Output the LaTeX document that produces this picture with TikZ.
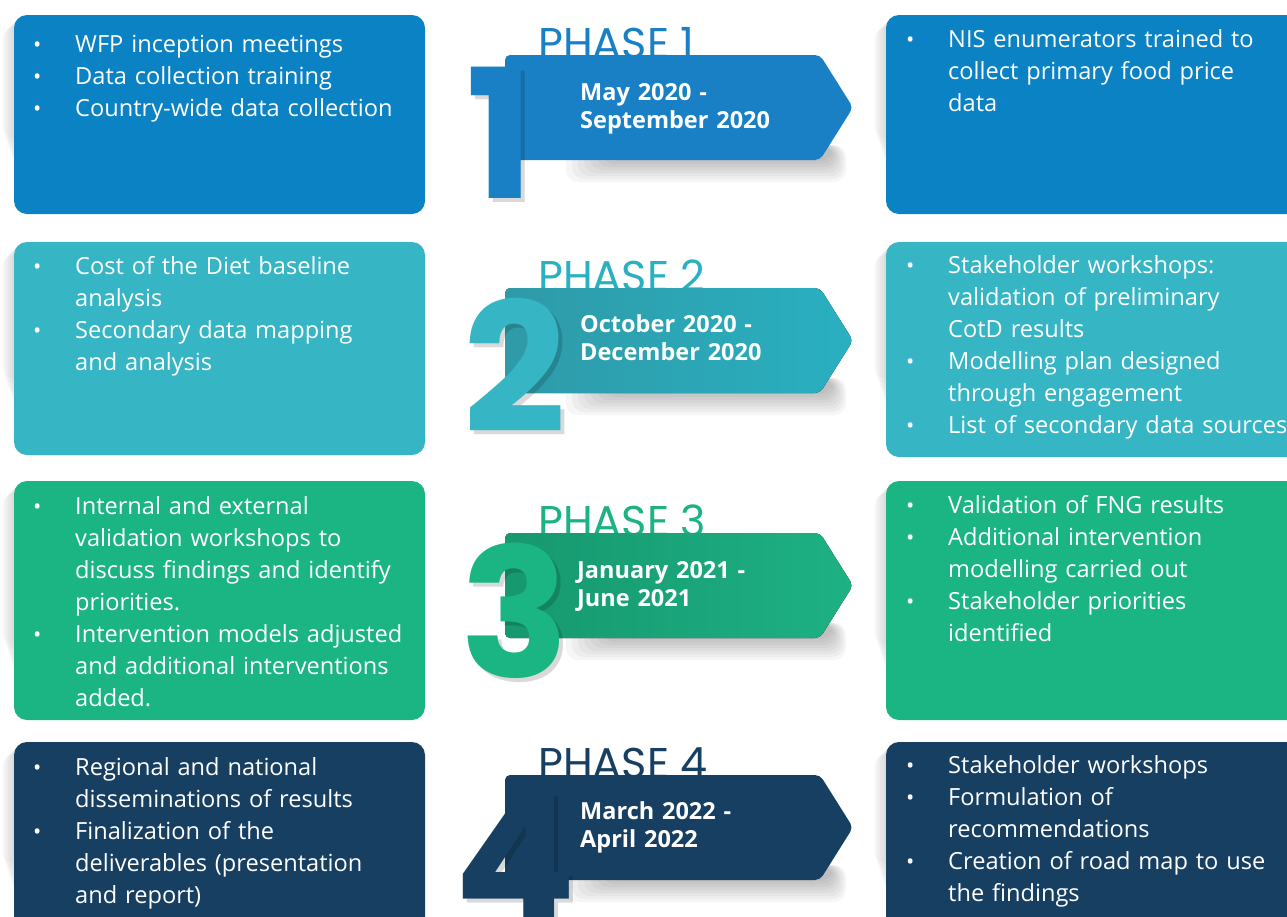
\documentclass[tikz,border=0pt]{standalone}
\usepackage{fontspec}
\setmainfont{Open Sans}
\newfontfamily\phasefont{Poppins}
\newfontfamily\numfont{Poppins}
\usetikzlibrary{positioning}

\definecolor{boxblue}{HTML}{0A82C4}
\definecolor{boxteal}{HTML}{36B5C4}
\definecolor{boxgreen}{HTML}{1BB584}
\definecolor{boxnavy}{HTML}{173F62}
\definecolor{bandblue}{HTML}{1A80C5}
\definecolor{bandteal}{HTML}{29B0C1}
\definecolor{bandtealdk}{HTML}{2F9AA8}
\definecolor{bandgreen}{HTML}{1DB183}
\definecolor{bandgreendk}{HTML}{17986F}
\definecolor{bandnavy}{HTML}{163F61}

% one bullet item, hanging indent
\newcommand{\itm}[1]{\hangindent=45pt\hangafter=1\noindent\makebox[45pt][l]{\hspace{3pt}{\fontsize{22}{22}\selectfont\textbullet}}#1\par}

\tikzset{
  bodytext/.style={anchor=base west, text width=410pt, inner sep=0pt, align=left,
    text=white, font=\fontsize{23.6}{32}\selectfont},
  datetext/.style={anchor=base west, text width=260pt, inner sep=0pt, align=left,
    text=white, font=\fontsize{23.5}{28.5}\selectfont\bfseries},
  phasetext/.style={anchor=base west, inner sep=0pt, font=\phasefont\fontsize{43}{43}\selectfont},
  bignum/.style={anchor=base, inner sep=0pt, font=\numfont\bfseries\fontsize{180}{180}\selectfont},
  card/.style={rounded corners=13pt},
  band/.style={rounded corners=5pt},
}

\begin{document}
\begin{tikzpicture}[x=1pt,y=-1pt]
  \useasboundingbox (0,0) rectangle (1287,916);
  \clip (0,0) rectangle (1287,916);

  % soft shadows left of the cards
  \foreach \y/\h in {15/214,242/455,481/720,742/940}{
    \foreach \d in {2,4,...,12}{
      \fill[black,opacity=.025,rounded corners=13pt] (14-\d,\y+\d) rectangle (200,\h-40-\d*3);
      \fill[black,opacity=.025,rounded corners=13pt] (886-\d,\y+\d) rectangle (1000,\h-40-\d*3);
    }
  }

  % cards
  \fill[boxblue,card] (14,15) rectangle (425,214);
  \fill[boxblue,card] (886,15) rectangle (1310,214);
  \fill[boxteal,card] (14,242) rectangle (425,455);
  \fill[boxteal,card] (886,242) rectangle (1310,457);
  \fill[boxgreen,card] (14,481) rectangle (425,720);
  \fill[boxgreen,card] (886,481) rectangle (1310,720);
  \fill[boxnavy,card] (14,742) rectangle (425,950);
  \fill[boxnavy,card] (886,742) rectangle (1310,950);

  % card texts
  \node[bodytext] (l1) at (30,52) {\itm{WFP inception meetings}\itm{Data collection training}\itm{Country-wide data collection}};
  \node[bodytext] (r1) at (903,47) {\itm{NIS enumerators trained to\newline collect primary food price\newline data}};
  \node[bodytext] (l2) at (30,274) {\itm{Cost of the Diet baseline\newline analysis}\itm{Secondary data mapping\newline and analysis}};
  \node[bodytext] (r2) at (903,273) {\itm{Stakeholder workshops:\newline validation of preliminary\newline CotD results}\itm{Modelling plan designed\newline through engagement}\itm{List of secondary data sources}};
  \node[bodytext] (l3) at (30,514) {\itm{Internal and external\newline validation workshops to\newline discuss findings and identify\newline priorities.}\itm{Intervention models adjusted\newline and additional interventions\newline added.}};
  \node[bodytext] (r3) at (903,513) {\itm{Validation of FNG results}\itm{Additional intervention\newline modelling carried out}\itm{Stakeholder priorities\newline identified}};
  \node[bodytext] (l4) at (30,775) {\itm{Regional and national\newline disseminations of results}\itm{Finalization of the\newline deliverables (presentation\newline and report)}};
  \node[bodytext] (r4) at (903,773) {\itm{Stakeholder workshops}\itm{Formulation of\newline recommendations}\itm{Creation of road map to use\newline the findings}};

  % phase titles (behind the bands)
  \node[phasetext,text=bandblue] (p1) at (538,58) {PHASE 1};
  \node[phasetext,text=bandteal] (p2) at (538,291) {PHASE 2};
  \node[phasetext,text=bandgreen] (p3) at (538,536) {PHASE 3};
  \node[phasetext,text=bandnavy] (p4) at (538,778) {PHASE 4};

  % shadows under the bands
  \foreach \t in {55,288,533,775}{
    \foreach \d in {1,...,8}{
      \fill[black,opacity=.035,rounded corners=12pt] (560+\d*6,\t+90) rectangle (848-\d*2,\t+130-\d*3);
    }
  }

  % bands
  \fill[bandblue,band] (505,55) -- (820,55) -- (853,107.5) -- (820,160) -- (505,160) -- cycle;
  \fill[band,left color=bandtealdk,right color=bandteal] (505,288) -- (820,288) -- (853,340.5) -- (820,393) -- (505,393) -- cycle;
  \fill[band,left color=bandgreendk,right color=bandgreen] (505,533) -- (820,533) -- (853,585.5) -- (820,638) -- (505,638) -- cycle;
  \fill[bandnavy,band] (505,775) -- (820,775) -- (853,827.5) -- (820,880) -- (505,880) -- cycle;

  \node[datetext] (d1) at (580,100) {May 2020 -\\September 2020};
  \node[datetext] (d2) at (580,332) {October 2020 -\\December 2020};
  \node[datetext] (d3) at (577,578) {January 2021 -\\June 2021};
  \node[datetext] (d4) at (580,819) {March 2022 -\\April 2022};

  % soft shadow behind the big numbers
  \node[bignum,text=black,opacity=.15] (s1) at (504,202) {1};
  \node[bignum,text=black,opacity=.15] (s2) at (519,436) {2};
  \node[bignum,text=black,opacity=.15] (s3) at (519,681) {3};
  \node[bignum,text=black,opacity=.15] (s4) at (519,926) {4};
  \node[bignum,text=bandblue] (n1) at (500,198) {1};
  \node[bignum,text=boxteal] (n2) at (515,432) {2};
  \node[bignum,text=boxgreen] (n3) at (515,677) {3};
  \node[bignum,text=bandnavy] (n4) at (515,922) {4};
\end{tikzpicture}
\end{document}
